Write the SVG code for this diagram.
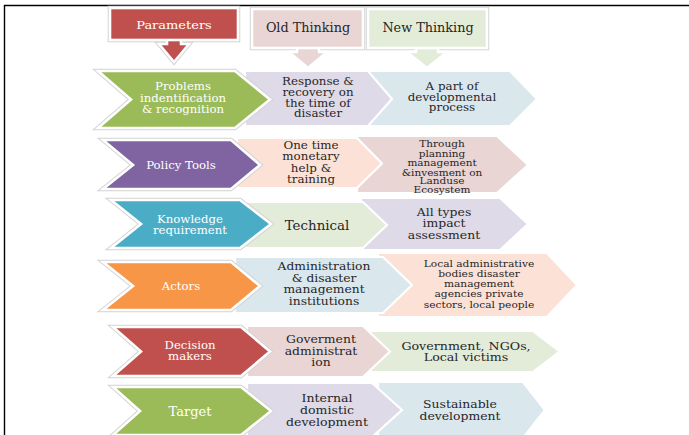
<svg xmlns="http://www.w3.org/2000/svg" width="689" height="435" viewBox="0 0 689 435">
<style>
.ol{fill:none;stroke:#d2d2d2;stroke-width:4.5;stroke-linejoin:miter;stroke-miterlimit:6}
.wb{stroke:#ffffff;stroke-width:2.6;stroke-linejoin:miter;stroke-miterlimit:6}
.wm{stroke:#ffffff;stroke-width:2.2;stroke-linejoin:miter}
text{font-family:"DejaVu Serif","Liberation Serif",serif;text-anchor:middle}
.lt{fill:#ffffff;font-size:10.3px}
.dk{fill:#262626;font-size:10.6px}
.red{fill:#C0504D}.grn{fill:#9BBB59}.pur{fill:#8064A2}.tea{fill:#4BACC6}.org{fill:#F79646}
.pink{fill:#EAD5D5}.lgrn{fill:#E3EBD9}.lav{fill:#DFDAE7}.lblu{fill:#DAE8EE}.pch{fill:#FCE2D6}
</style>
<rect width="689" height="435" fill="#ffffff"/>
<path d="M4.5 435 V5.5 H689" fill="none" stroke="#000000" stroke-width="1.4"/>

<g id="header-parameters">
<rect class="ol" x="110" y="8" width="128" height="32"/>
<polygon class="ol" points="167,40 181,40 181,44 189,44 174,62 159,44 167,44"/>
<polygon class="red wb" points="167,38 181,38 181,44 189,44 174,62 159,44 167,44"/>
<rect class="red wb" x="110" y="8" width="128" height="32"/>
<text class="lt" transform="translate(174 28.5) scale(1.12 1)" style="font-size:11.6px">Parameters</text>
</g>
<g id="header-old">
<rect class="ol" x="252" y="9" width="111" height="39"/>
<polygon class="pink wb" points="297,46 319,46 319,52 327,52 308,68 289,52 297,52"/>
<rect class="pink wb" x="252" y="9" width="111" height="39"/>
<text class="dk" x="308" y="32" style="font-size:12.8px">Old Thinking</text>
</g>
<g id="header-new">
<rect class="ol" x="368" y="9" width="119" height="39"/>
<polygon class="lgrn wb" points="416,46 438,46 438,52 447,52 427,68 407,52 416,52"/>
<rect class="lgrn wb" x="368" y="9" width="119" height="39"/>
<text class="dk" x="428" y="32" style="font-size:12.8px">New Thinking</text>
</g>

<g id="row1">
<polygon class="lblu wm" points="367,71 510,71 537,99 510,126 367,126"/>
<text class="dk" transform="translate(452 90) scale(1.12 1)">A part of</text>
<text class="dk" transform="translate(452 100.7) scale(1.12 1)">developmental</text>
<text class="dk" transform="translate(452 111.3) scale(1.12 1)">process</text>
<polygon class="lav wm" points="245,71 368,71 392,99 368,126 245,126"/>
<text class="dk" transform="translate(318 85) scale(1.12 1)">Response &amp;</text>
<text class="dk" transform="translate(318 96) scale(1.12 1)">recovery on</text>
<text class="dk" transform="translate(318 106.7) scale(1.12 1)">the time of</text>
<text class="dk" transform="translate(318 117.3) scale(1.12 1)">disaster</text>
<polygon class="ol" points="98,71 235,71 270,99.5 235,128 98,128 131,99.5"/>
<polygon class="grn wb" points="98,71 235,71 270,99.5 235,128 98,128 131,99.5"/>
<text class="lt" transform="translate(183 90) scale(1.14 1)">Problems</text>
<text class="lt" transform="translate(183 101.5) scale(1.14 1)">indentification</text>
<text class="lt" transform="translate(183 112.7) scale(1.14 1)">&amp; recognition</text>
</g>

<g id="row2">
<polygon class="pink wm" points="357,136 497,136 528,165 497,193 357,193"/>
<text class="dk" transform="translate(442 147.3) scale(1.14 1)" style="font-size:9.2px">Through</text>
<text class="dk" transform="translate(442 156.5) scale(1.14 1)" style="font-size:9.2px">planning</text>
<text class="dk" transform="translate(442 166) scale(1.14 1)" style="font-size:9.2px">management</text>
<text class="dk" transform="translate(442 175.5) scale(1.14 1)" style="font-size:9.2px">&amp;invesment on</text>
<text class="dk" transform="translate(442 184.3) scale(1.14 1)" style="font-size:9.2px">Landuse</text>
<text class="dk" transform="translate(442 192.8) scale(1.14 1)" style="font-size:9.2px">Ecosystem</text>
<polygon class="pch wm" points="237,138 357,138 382,163.5 357,188 237,188"/>
<text class="dk" transform="translate(311 149) scale(1.12 1)">One time</text>
<text class="dk" transform="translate(311 160.3) scale(1.12 1)">monetary</text>
<text class="dk" transform="translate(311 171.7) scale(1.12 1)">help &amp;</text>
<text class="dk" transform="translate(311 183) scale(1.12 1)">training</text>
<polygon class="ol" points="103,140 231,140 260,165 231,189 103,189 133,165"/>
<polygon class="pur wb" points="103,140 231,140 260,165 231,189 103,189 133,165"/>
<text class="lt" transform="translate(181 169) scale(1.14 1)">Policy Tools</text>
</g>

<g id="row3">
<polygon class="lav wm" points="361,198 500,198 528,224 500,250 361,250"/>
<text class="dk" transform="translate(444 215.5) scale(1.12 1)" style="font-size:11.1px">All types</text>
<text class="dk" transform="translate(444 227) scale(1.12 1)" style="font-size:11.1px">impact</text>
<text class="dk" transform="translate(444 238.7) scale(1.12 1)" style="font-size:11.1px">assessment</text>
<polygon class="lgrn wm" points="245,202 363,202 387,225 363,248 245,248"/>
<text class="dk" x="317" y="229.5" style="font-size:13.4px">Technical</text>
<polygon class="ol" points="111,200 240,200 271,224 240,248 111,248 141,224"/>
<polygon class="tea wb" points="111,200 240,200 271,224 240,248 111,248 141,224"/>
<text class="lt" transform="translate(190 223) scale(1.16 1)" style="font-size:10.1px">Knowledge</text>
<text class="lt" transform="translate(190 233.5) scale(1.16 1)" style="font-size:10.1px">requirement</text>
</g>

<g id="row4">
<polygon class="pch wm" points="378,253 547,253 577,285 547,317 378,317"/>
<text class="dk" transform="translate(479 266.7) scale(1.12 1)" style="font-size:9.5px">Local administrative</text>
<text class="dk" transform="translate(479 277) scale(1.12 1)" style="font-size:9.5px">bodies disaster</text>
<text class="dk" transform="translate(479 287.2) scale(1.12 1)" style="font-size:9.5px">management</text>
<text class="dk" transform="translate(479 297.3) scale(1.12 1)" style="font-size:9.5px">agencies private</text>
<text class="dk" transform="translate(479 307.5) scale(1.12 1)" style="font-size:9.5px">sectors, local people</text>
<polygon class="lblu wm" points="235,257 383,257 412,285 383,313 235,313"/>
<text class="dk" transform="translate(324 270) scale(1.12 1)" style="font-size:11px">Administration</text>
<text class="dk" transform="translate(324 281.7) scale(1.12 1)" style="font-size:11px">&amp; disaster</text>
<text class="dk" transform="translate(324 293.3) scale(1.12 1)" style="font-size:11px">management</text>
<text class="dk" transform="translate(324 305) scale(1.12 1)" style="font-size:11px">institutions</text>
<polygon class="ol" points="103,262 231,262 260,286 231,310 103,310 133,286"/>
<polygon class="org wb" points="103,262 231,262 260,286 231,310 103,310 133,286"/>
<text class="lt" transform="translate(181 290) scale(1.14 1)">Actors</text>
</g>

<g id="row5">
<polygon class="lgrn wm" points="368,331 533,331 560,351.5 533,372 368,372"/>
<text class="dk" transform="translate(466 349.5) scale(1.1 1)" style="font-size:11.5px">Government, NGOs,</text>
<text class="dk" transform="translate(466 361) scale(1.1 1)" style="font-size:11.5px">Local victims</text>
<polygon class="pink wm" points="247,326 363,326 390,351.5 363,377 247,377"/>
<text class="dk" transform="translate(321 343) scale(1.1 1)" style="font-size:11.3px">Goverment</text>
<text class="dk" transform="translate(321 354.5) scale(1.1 1)" style="font-size:11.3px">administrat</text>
<text class="dk" transform="translate(321 366) scale(1.1 1)" style="font-size:11.3px">ion</text>
<polygon class="ol" points="113,327 241,327 270,351.5 241,376 113,376 141,351.5"/>
<polygon class="red wb" points="113,327 241,327 270,351.5 241,376 113,376 141,351.5"/>
<text class="lt" transform="translate(190 349) scale(1.14 1)">Decision</text>
<text class="lt" transform="translate(190 360) scale(1.14 1)">makers</text>
</g>

<g id="row6">
<polygon class="lblu wm" points="378,382 523,382 545,410 523,438 378,438"/>
<text class="dk" transform="translate(460 408) scale(1.1 1)" style="font-size:11.3px">Sustainable</text>
<text class="dk" transform="translate(460 419.5) scale(1.1 1)" style="font-size:11.3px">development</text>
<polygon class="lav wm" points="247,383 372,383 402,410 372,437 247,437"/>
<text class="dk" transform="translate(327 402) scale(1.1 1)" style="font-size:11.4px">Internal</text>
<text class="dk" transform="translate(327 414) scale(1.1 1)" style="font-size:11.4px">domistic</text>
<text class="dk" transform="translate(327 426) scale(1.1 1)" style="font-size:11.4px">development</text>
<polygon class="ol" points="113,387 241,387 271,411 241,435 113,435 140,411"/>
<polygon class="grn wb" points="113,387 241,387 271,411 241,435 113,435 140,411"/>
<text class="lt" x="190" y="415.5" style="font-size:13px">Target</text>
</g>
</svg>
